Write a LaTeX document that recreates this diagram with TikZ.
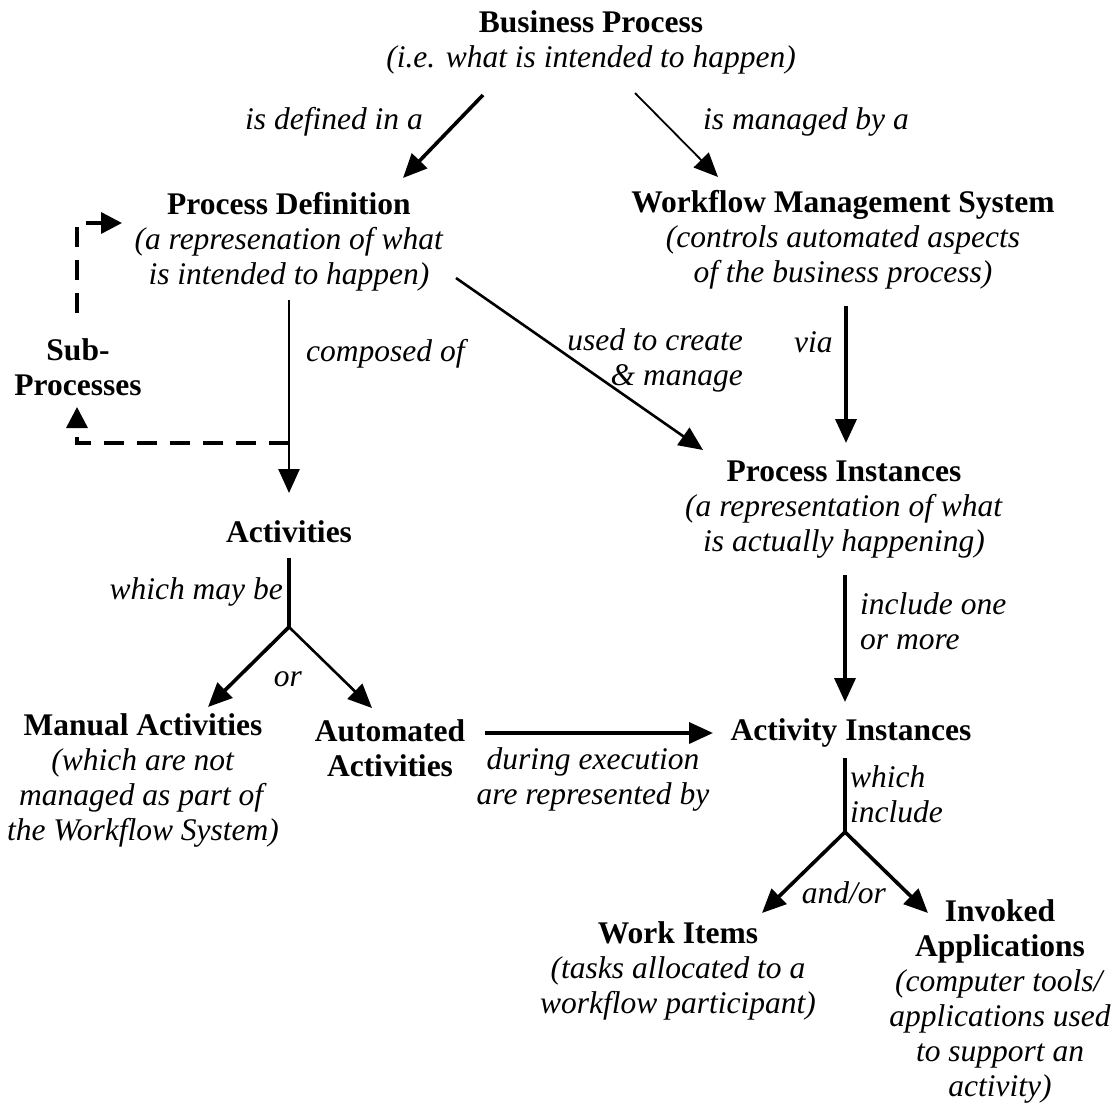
\documentclass[tikz,border=0pt]{standalone}
\usepackage{fontspec}
\setmainfont{Liberation Serif}
\usetikzlibrary{arrows.meta}
\begin{document}
\begin{tikzpicture}[x=1pt,y=-1pt,
  every node/.style={inner sep=0pt, align=center, font=\fontsize{31.5}{35}\selectfont},
  arr/.style={-{Triangle[length=24pt,width=21pt]}, line width=2.6pt},
  thinarr/.style={arr, line width=1.8pt},
  thickarr/.style={arr, line width=3.6pt},
  dasharr/.style={-{Triangle[length=21pt,width=21pt]}, line width=3.5pt, dash pattern=on 20pt off 13pt},
  plain/.style={line width=2.6pt},
  thickplain/.style={line width=3.4pt},
]
\useasboundingbox (0,0) rectangle (1116,1106);

% ---- text nodes ----
\node (bp) at (591,42) {\textbf{Business Process}\\\textit{(i.e. what is intended to happen)}};
\node[anchor=east] (ldef) at (423,122) {\textit{is defined in a}};
\node[anchor=west] (lman) at (703,122) {\textit{is managed by a}};
\node (pd) at (289,242) {\textbf{Process Definition}\\\textit{(a represenation of what}\\\textit{is intended to happen)}};
\node (wms) at (843,240) {\textbf{Workflow Management System}\\\textit{(controls automated aspects}\\\textit{of the business process)}};
\node (sub) at (78,367) {\textbf{Sub-}\\\textbf{Processes}};
\node[anchor=west] (lcomp) at (306,354) {\textit{composed of}};
\node[anchor=east, align=right] (luse) at (743,360) {\textit{used to create}\\\textit{\& manage}};
\node[anchor=west] (lvia) at (794,342) {\textit{via}};
\node (pi) at (844,510) {\textbf{Process Instances}\\\textit{(a representation of what}\\\textit{is actually happening)}};
\node (act) at (289,532) {\textbf{Activities}};
\node[anchor=east] (lmay) at (283,592) {\textit{which may be}};
\node[anchor=west, align=left] (linc) at (860,621) {\textit{include one}\\\textit{or more}};
\node (lor) at (288,679) {\textit{or}};
\node (man) at (143,780) {\textbf{Manual Activities}\\\textit{(which are not}\\\textit{managed as part of}\\\textit{the Workflow System)}};
\node (auto) at (390,748) {\textbf{Automated}\\\textbf{Activities}};
\node (ai) at (851,733) {\textbf{Activity Instances}};
\node (ldur) at (593,779) {\textit{during execution}\\\textit{are represented by}};
\node[anchor=west, align=left] (lwhich) at (850,794) {\textit{which}\\\textit{include}};
\node (land) at (844,893) {\textit{and/or}};
\node (wi) at (678,971) {\textbf{Work Items}\\\textit{(tasks allocated to a}\\\textit{workflow participant)}};
\node (ia) at (1000,1001) {\textbf{Invoked}\\\textbf{Applications}\\\textit{(computer tools/}\\\textit{applications used}\\\textit{to support an}\\\textit{activity)}};

% ---- connector end points ----
\coordinate (bpL) at (483,95);   \coordinate (pdIn) at (403,178);
\coordinate (bpR) at (635,93);   \coordinate (wmsIn) at (718,177);
\coordinate (pdOut) at (289,300); \coordinate (actIn) at (289,493);
\coordinate (branch) at (289,443);
\coordinate (subLow) at (77,443); \coordinate (subIn) at (77,407);
\coordinate (subOut) at (77,313); \coordinate (subUp) at (77,223);
\coordinate (pdSide) at (122,223);
\coordinate (pdDiag) at (456,278); \coordinate (piDiag) at (703,450);
\coordinate (wmsOut) at (846,306); \coordinate (piIn) at (846,443);
\coordinate (piOut) at (845,575); \coordinate (aiIn) at (845,702);
\coordinate (actOut) at (289,558); \coordinate (split1) at (289,627);
\coordinate (manIn) at (208,707); \coordinate (autoIn) at (372,708);
\coordinate (autoOut) at (485,733); \coordinate (aiSide) at (713,733);
\coordinate (aiOut) at (845,758); \coordinate (split2) at (845,832);
\coordinate (wiIn) at (762,913); \coordinate (iaIn) at (928,913);

% ---- connectors ----
\draw[thickarr] (bpL) -- (pdIn);
\draw[thinarr] (bpR) -- (wmsIn);
\draw[arr] (pdOut) -- (actIn);
\draw[dasharr] (branch) -- (subLow) -- (subIn);
\draw[dasharr] (subOut) -- (subUp) -- (pdSide);
\draw[arr] (pdDiag) -- (piDiag);
\draw[thickarr] (wmsOut) -- (piIn);
\draw[thickarr] (piOut) -- (aiIn);
\draw[thickplain] (actOut) -- (split1);
\draw[thickarr] (split1) -- (manIn);
\draw[arr] (split1) -- (autoIn);
\draw[thickarr] (autoOut) -- (aiSide);
\draw[thickplain] (aiOut) -- (split2);
\draw[thickarr] (split2) -- (wiIn);
\draw[thickarr] (split2) -- (iaIn);
\end{tikzpicture}
\end{document}
